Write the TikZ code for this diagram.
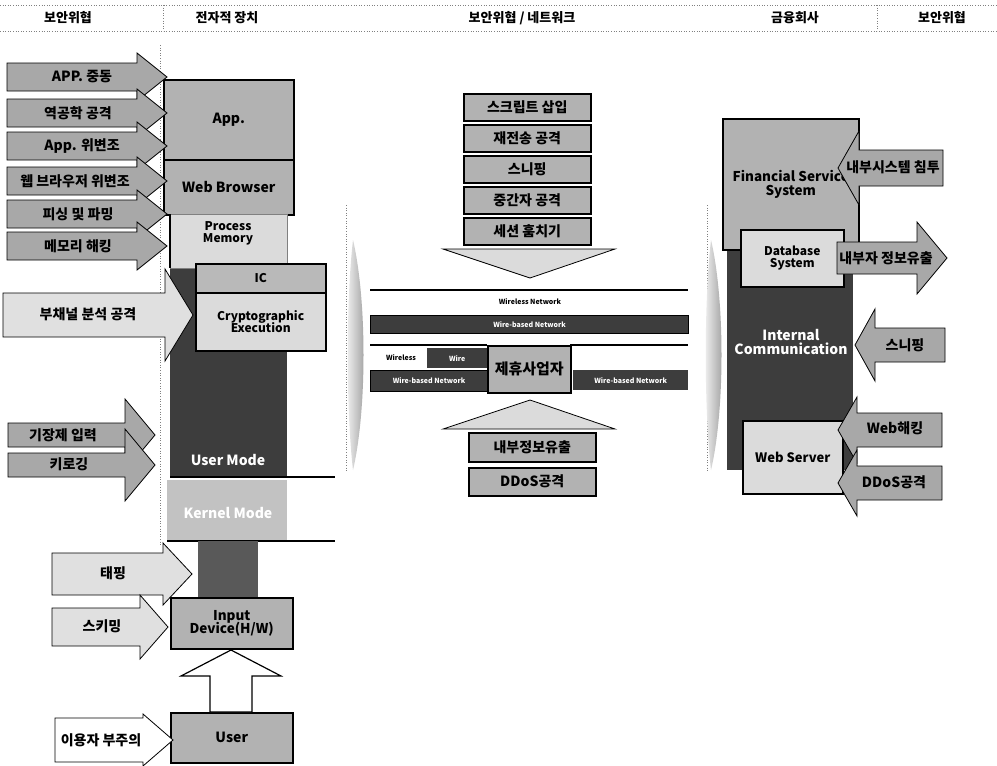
\documentclass[tikz,border=0pt]{standalone}
\usepackage{fontspec}
\setmainfont{Noto Sans CJK KR}
\definecolor{arg}{gray}{0.66}
\definecolor{boxg}{gray}{0.70}
\definecolor{lightg}{gray}{0.86}
\definecolor{hatchg}{gray}{0.88}
\definecolor{darkg}{gray}{0.24}
\definecolor{kern}{gray}{0.76}
\newcommand\myArrowShape[7]{%
  \draw[#1] (#2,#5-#6) -- (#3,#5-#6) -- (#3,#5-#7) -- (#4,#5) -- (#3,#5+#7) -- (#3,#5+#6) -- (#2,#5+#6) -- cycle;}
\tikzset{
  bx/.style={draw=black, line width=1.5pt, inner sep=0pt, anchor=north west, align=center},
  ar/.style={draw=black, line width=0.8pt, fill=arg},
  arl/.style={draw=black, line width=0.8pt, fill=hatchg},
  arw/.style={draw=black, line width=0.8pt, fill=white},
  sep/.style={dotted, gray, line width=0.6pt},
  hx/.style={inner sep=0pt, align=center, font=\bfseries\fontsize{13}{15}\selectfont},
  tx/.style={inner sep=0pt, align=center, font=\bfseries\fontsize{14}{16}\selectfont},
  tl/.style={inner sep=0pt, align=center, font=\bfseries\fontsize{14}{16}\selectfont},
  tm/.style={inner sep=0pt, align=center, font=\bfseries\fontsize{12}{14}\selectfont},
  ts/.style={inner sep=0pt, align=center, font=\bfseries\fontsize{7}{8}\selectfont},
}
\begin{document}
\begin{tikzpicture}[x=1pt,y=-1pt]
\useasboundingbox[fill=white] (0,0) rectangle (997,766);

% ---------- header ----------
\draw[sep] (0,5) -- (997,5);
\draw[sep] (0,31) -- (997,31);
\draw[sep] (163,5) -- (163,31);
\draw[sep] (877,5) -- (877,31);
\node[hx] (h1) at (68,18) {보안위협};
\node[hx] (h2) at (227,18) {전자적 장치};
\node[hx] (h3) at (522,18) {보안위협 / 네트워크};
\node[hx] (h4) at (795,18) {금융회사};
\node[hx] (h5) at (942,18) {보안위협};

% dotted guide lines
\draw[sep] (160,45) -- (160,545);
\draw[sep] (346,205) -- (346,472);
\draw[sep] (707,205) -- (707,472);

% lens shapes between columns
\shade[left color=gray!10, right color=gray!80] (353,240) .. controls (367,300) and (367,410) .. (353,470) .. controls (346,410) and (346,300) .. (353,240);
\shade[left color=gray!10, right color=gray!80] (711,240) .. controls (725,300) and (725,410) .. (711,470) .. controls (704,410) and (704,300) .. (711,240);

% ---------- device column ----------
\node[bx, fill=boxg, minimum width=130, minimum height=80, tl] (app) at (163,79) {App.};
\node[bx, fill=boxg, minimum width=130, minimum height=55, tl] (web) at (163,159) {Web Browser};
\fill[darkg] (170,262) rectangle (287,477);
\draw[gray, line width=0.6pt, fill=lightg] (170,214) rectangle (287,268);
\draw[black, line width=1.2pt] (170,214) -- (170,268);
\node[tm] (pm) at (228,233) {Process\\[-2pt]Memory};
\node[bx, minimum width=130, minimum height=29, tm, fill=gray!55] (ic) at (195,263) {IC};
\node[bx, fill=lightg, minimum width=130, minimum height=58, tm] (ce) at (195,292) {Cryptographic\\[-2pt]Execution};
\node[tl, text=white] (um) at (228,460) {User Mode};
\draw[line width=1.5pt] (170,477) -- (335,477);
\fill[kern] (167,480) rectangle (287,540);
\node[tl, text=white] (km) at (228,513) {Kernel Mode};
\draw[line width=1.5pt] (167,541) -- (335,541);
\fill[gray!70!black] (198,541) rectangle (258,597);
\node[bx, fill=boxg, minimum width=122, minimum height=51, font=\bfseries\fontsize{13.5}{15}\selectfont] (inp) at (170,597) {Input\\[-2pt]Device(H/W)};
\node[bx, fill=boxg, minimum width=122, minimum height=50, tl] (usr) at (170,712) {User};
\draw[line width=1.2pt, fill=white] (210,712) -- (210,676) -- (181,676) -- (231,650) -- (281,676) -- (252,676) -- (252,712) -- cycle;

% ---------- left threat arrows ----------
\myArrowShape{ar}{7}{137}{167}{77}{14}{24}
\myArrowShape{ar}{7}{137}{167}{113}{14}{24}
\myArrowShape{ar}{7}{137}{167}{146}{14}{24}
\myArrowShape{ar}{7}{137}{167}{181}{14}{24}
\myArrowShape{ar}{7}{137}{167}{214}{14}{24}
\myArrowShape{ar}{7}{137}{167}{246}{14}{24}
\node[tx] (a1) at (82,77) {APP. 중동};
\node[tx] (a2) at (78,113) {역공학 공격};
\node[tx] (a3) at (82,146) {App. 위변조};
\node[tx] (a4) at (75,181) {웹 브라우저 위변조};
\node[tx] (a5) at (78,214) {피싱 및 파밍};
\node[tx] (a6) at (78,246) {메모리 해킹};

\myArrowShape{arl}{3}{165}{193}{315}{22}{46}
\node[tx] (a7) at (88,314) {부채널 분석 공격};
\myArrowShape{ar}{8}{125}{155}{435}{12}{36}
\myArrowShape{ar}{8}{125}{155}{465}{12}{36}
\node[tx] (a8) at (63,435) {기장제 입력};
\node[tx] (a9) at (69,464) {키로깅};
\myArrowShape{arl}{52}{163}{192}{574}{21}{31}
\node[tx] (a10) at (113,573) {태핑};
\myArrowShape{arl}{52}{140}{168}{627}{19}{32}
\node[tx] (a11) at (102,626) {스키밍};
\myArrowShape{arw}{55}{143}{173}{740}{22}{26}
\node[tx] (a12) at (101,740) {이용자 부주의};

% ---------- network column ----------
\node[bx, fill=boxg, minimum width=127, minimum height=27, tx] (n1) at (463,93) {스크립트 삽입};
\node[bx, fill=boxg, minimum width=127, minimum height=27, tx] (n2) at (463,124) {재전송 공격};
\node[bx, fill=boxg, minimum width=127, minimum height=27, tx] (n3) at (463,155) {스니핑};
\node[bx, fill=boxg, minimum width=127, minimum height=27, tx] (n4) at (463,186) {중간자 공격};
\node[bx, fill=boxg, minimum width=127, minimum height=27, tx] (n5) at (463,217) {세션 훔치기};
\draw[line width=0.8pt, fill=lightg] (443,249) -- (615,249) -- (530,278) -- cycle;

\draw[line width=1.5pt] (370,290) -- (688,290);
\node[ts] (wl1) at (530,302) {Wireless Network};
\node[draw=black, line width=1pt, fill=darkg, minimum width=318, minimum height=18, inner sep=0pt, anchor=north west, ts, text=white] (wb1) at (370,315) {Wire-based Network};
\draw[line width=1.5pt] (370,345) -- (487,345);
\draw[line width=1.5pt] (570,345) -- (688,345);
\node[ts] (wl2) at (401,358) {Wireless};
\node[fill=darkg, minimum width=60, minimum height=20, inner sep=0pt, anchor=north west, ts, text=white] (wr) at (427,348) {Wire};
\node[draw=black, line width=1pt, fill=darkg, minimum width=117, minimum height=21, inner sep=0pt, anchor=north west, ts, text=white] (wb2) at (370,370) {Wire-based Network};
\node[bx, fill=boxg, minimum width=83, minimum height=47, font=\bfseries\fontsize{15}{17}\selectfont] (part) at (487,345) {제휴사업자};
\node[fill=darkg, minimum width=115, minimum height=20, inner sep=0pt, anchor=north west, ts, text=white] (wb3) at (573,370) {Wire-based Network};

\draw[line width=0.8pt, fill=lightg] (443,429) -- (615,429) -- (530,400) -- cycle;
\node[bx, fill=boxg, minimum width=127, minimum height=29, tx] (n6) at (468,432) {내부정보유출};
\node[bx, fill=boxg, minimum width=127, minimum height=28, tx] (n7) at (468,467) {DDoS공격};

% ---------- financial column ----------
\fill[darkg] (727,245) rectangle (853,470);
\node[bx, fill=boxg, minimum width=136, minimum height=131, font=\bfseries\fontsize{13.5}{15}\selectfont] (fss) at (722,118) {Financial Service\\[-1pt]System};
\node[tl, text=white] (ic2) at (791,342) {Internal\\[-2pt]Communication};
\node[bx, fill=lightg, minimum width=103, minimum height=57, tm] (db) at (740,229) {Database\\[-2pt]System};
\node[bx, fill=lightg, minimum width=100, minimum height=73, font=\bfseries\fontsize{13}{15}\selectfont] (ws) at (742,420) {Web Server};

\myArrowShape{ar}{943}{859}{838}{168}{18}{37}
\node[tx] (r1) at (893,167) {내부시스템 침투};
\myArrowShape{ar}{837}{917}{947}{258}{16}{36}
\node[tx] (r2) at (886,258) {내부자 정보유출};
\myArrowShape{ar}{945}{875}{855}{345}{17}{36}
\node[tx] (r3) at (905,345) {스니핑};
\myArrowShape{ar}{942}{857}{838}{430}{17}{33}
\node[tx] (r4) at (895,428) {Web해킹};
\myArrowShape{ar}{942}{857}{838}{483}{17}{33}
\node[tx] (r5) at (894,482) {DDoS공격};
\end{tikzpicture}
\end{document}
